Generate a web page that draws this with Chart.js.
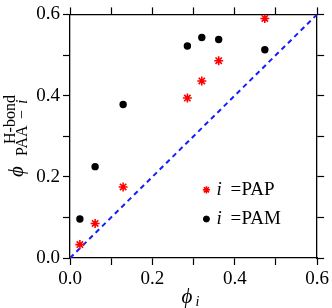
<!DOCTYPE html>
<html><head><meta charset="utf-8">
<script src="https://cdn.jsdelivr.net/npm/chart.js@4"></script>
<style>html,body{margin:0;padding:0;background:#fff;overflow:hidden}</style>
</head><body>
<canvas id="c" width="332" height="308" style="display:block;width:332px;height:308px"></canvas>
<script>
// ---- data ----
const seriesNames = ['PAP', 'PAM'];
const phiPAP   = [0.024, 0.061, 0.129, 0.285, 0.320, 0.361, 0.473];
const hbondPAP = [0.033, 0.085, 0.175, 0.394, 0.436, 0.486, 0.590];
const phiPAM   = [0.024, 0.061, 0.129, 0.285, 0.320, 0.361, 0.473];
const hbondPAM = [0.096, 0.225, 0.378, 0.522, 0.543, 0.538, 0.513];
const diagonal = [0, 0.6];
const axisMin = 0, axisMax = 0.6, tickStep = 0.1;

const SERIF = '"Liberation Serif", "DejaVu Serif", serif';
const PHI = '\u03d5';
Chart.defaults.font.family = SERIF;
Chart.defaults.color = '#000';

const fmt = v => (Math.round(v * 10) % 2 === 0) ? Number(v).toFixed(1) : '';
const grid = {drawOnChartArea: false, drawTicks: true, tickLength: 7, tickColor: '#000', tickWidth: 1.2, color: '#000'};
const border = {display: true, color: '#000', width: 1.3};

function axis(pos, labels, size) {
  const horiz = pos === 'top' || pos === 'bottom';
  return {
    type: 'linear', position: pos, min: axisMin, max: axisMax,
    ticks: labels ? {stepSize: tickStep, autoSkip: false, maxRotation: 0, padding: 3,
                     color: '#000', font: {size: 19, family: SERIF}, callback: fmt}
                  : {stepSize: tickStep, autoSkip: false, display: false},
    grid: grid, border: border,
    afterFit: s => { if (horiz) s.height = size; else s.width = size; }
  };
}

const annot = {
  id: 'annot',
  afterDraw(chart) {
    const ctx = chart.ctx, a = chart.chartArea;
    ctx.save();
    ctx.fillStyle = '#000';
    ctx.textAlign = 'left';
    ctx.textBaseline = 'alphabetic';
    // x title  phi_i
    const cx = (a.left + a.right) / 2;
    ctx.font = 'italic 21px ' + SERIF;
    ctx.fillText(PHI, cx - 12, 303);
    ctx.font = 'italic 14px ' + SERIF;
    ctx.fillText('i', cx + 2, 306);
    // y title  phi^{H-bond}_{PAA-i}
    ctx.save();
    ctx.translate(23, 177);
    ctx.rotate(-Math.PI / 2);
    ctx.font = 'italic 21px ' + SERIF;
    ctx.fillText(PHI, 0, 0);
    ctx.font = '16px ' + SERIF;
    ctx.fillText('H-bond', 33, -8);
    ctx.fillText('PAA', 21, 4);
    ctx.fillText('\u2212', 58, 4);
    ctx.font = 'italic 16px ' + SERIF;
    ctx.fillText('i', 73, 4);
    ctx.restore();
    // legend
    const ds = chart.data.datasets;
    const lx = a.left + 0.552 * (a.right - a.left);
    const rows = [a.top + 0.72 * (a.bottom - a.top), a.top + 0.84 * (a.bottom - a.top)];
    [0, 1].forEach(k => {
      const d = ds[k], y = rows[k];
      ctx.strokeStyle = d.borderColor; ctx.fillStyle = d.backgroundColor;
      ctx.lineWidth = d.pointBorderWidth || 1;
      Chart.helpers.drawPoint(ctx, {pointStyle: d.pointStyle, radius: k === 0 ? 3.6 : 3, borderWidth: ctx.lineWidth, rotation: 0}, lx, y);
      ctx.fillStyle = '#000';
      ctx.font = 'italic 19px ' + SERIF;
      ctx.fillText('i', lx + 10, y + 5);
      ctx.font = '19px ' + SERIF;
      ctx.fillText('=', lx + 24, y + 5);
      ctx.fillText(seriesNames[k], lx + 35, y + 5);
    });
    ctx.restore();
  }
};

new Chart(document.getElementById('c'), {
  type: 'scatter',
  data: {
    datasets: [
      {label: seriesNames[0], data: phiPAP.map((x, i) => ({x: x, y: hbondPAP[i]})),
       pointStyle: 'star', pointRadius: 4.5, pointBorderWidth: 1.6,
       borderColor: '#ff0000', backgroundColor: '#ff0000', order: 2},
      {label: seriesNames[1], data: phiPAM.map((x, i) => ({x: x, y: hbondPAM[i]})),
       pointStyle: 'circle', pointRadius: 3.7, pointBorderWidth: 0,
       borderColor: '#000000', backgroundColor: '#000000', order: 1},
      {label: 'y = x', data: diagonal.map(v => ({x: v, y: v})), showLine: true,
       borderColor: '#1a1aff', borderWidth: 2, borderDash: [5, 4], pointRadius: 0, order: 3}
    ]
  },
  options: {
    responsive: false, animation: false, devicePixelRatio: 1,
    layout: {padding: 0},
    plugins: {legend: {display: false}, tooltip: {enabled: false}},
    scales: {
      x: axis('bottom', true, 50),
      y: axis('left', true, 70),
      x2: axis('top', false, 8),
      y2: axis('right', false, 14)
    }
  },
  plugins: [annot]
});
</script>
</body></html>
